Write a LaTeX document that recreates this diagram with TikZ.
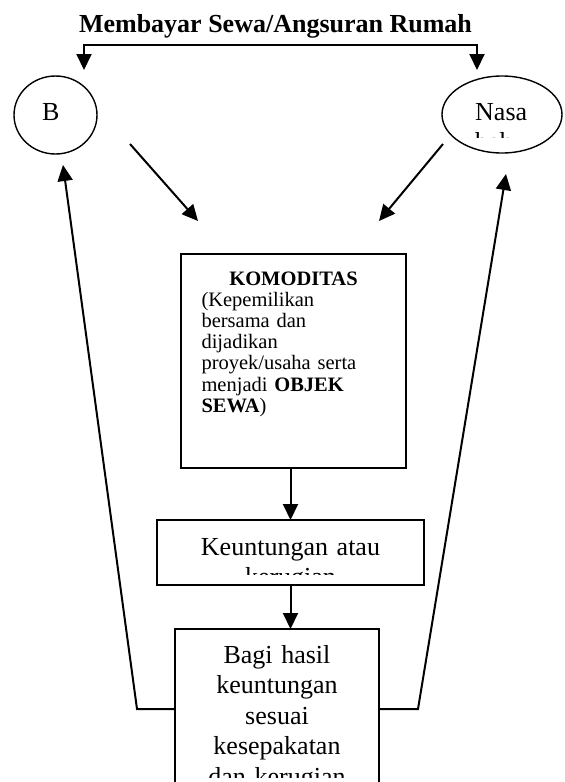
\documentclass[tikz,border=0pt]{standalone}
\usepackage{fontspec}
\setmainfont{Liberation Serif}
\usepackage{tikz}
\usetikzlibrary{shapes.geometric,arrows.meta,positioning}

\begin{document}
\begin{tikzpicture}[x=1pt, y=-1pt,
  box/.style={rectangle, draw=black, line width=2pt, outer sep=0pt},
  party/.style={ellipse, draw=black, line width=1.4pt, outer sep=0pt},
  txt/.style={inner sep=0pt, font=\fontsize{26}{30.5}\selectfont},
  arr/.style={-{Triangle[length=16pt,width=15pt]}, line width=2pt}]
  \clip (0,0) rectangle (565,782);
  % top: payment of rent
  \node[txt, font=\fontsize{26}{30}\selectfont\bfseries, anchor=base] (title) at (275.5,32) {Membayar Sewa/Angsuran Rumah};
  \coordinate (payl) at (84,45);
  \coordinate (payr) at (477,45);
  \coordinate (payltip) at (84,70);
  \coordinate (payrtip) at (477,70);
  \draw[{Triangle[length=16pt,width=15pt]}-{Triangle[length=16pt,width=15pt]}, line width=2pt]
    (payltip) -- (payl) -- (payr) -- (payrtip);
  % the two parties
  \node[party, minimum width=83pt, minimum height=78pt] (bank) at (55.5,115) {};
  \node[txt, anchor=base west] (banktxt) at (42,120) {B};
  \node[party, minimum width=120pt, minimum height=77pt] (nasabah) at (502,114.5) {};
  \begin{scope}
    \clip (440,70) rectangle (565,137);
    \node[txt, anchor=base west, text width=80pt, align=left] (nasabahtxt) at (475,120) {Nasa\\bah};
  \end{scope}
  % commodity box
  \node[box, anchor=north, text width=184pt, inner xsep=20.5pt, inner ysep=0pt,
        text height=31pt, text depth=183pt, align=left,
        font=\fontsize{20.5}{21.2}\selectfont] (komoditas) at (293.5,254)
    {\makebox[\linewidth][c]{\textbf{KOMODITAS}}\\(Kepemilikan\\bersama dan\\dijadikan\\proyek/usaha serta\\menjadi \textbf{OBJEK}\\\textbf{SEWA})};
  \node[box, minimum width=267pt, minimum height=65pt, below=52pt of komoditas, xshift=-3pt] (untung) {};
  \begin{scope}
    \clip (untung.north west) rectangle ([yshift=11pt]untung.south east);
    \node[txt, anchor=base, text width=240pt, align=center] (untungtxt) at (290.5,555) {Keuntungan atau\\kerugian};
  \end{scope}
  \node[box, minimum width=204pt, minimum height=180pt, below=44pt of untung, xshift=-13.5pt] (bagi) {};
  \begin{scope}
    \clip (bagi.north west) rectangle (bagi.east |- 0,777);
    \node[txt, anchor=base, text width=190pt, align=center] (bagitxt) at (277,663) {Bagi hasil\\keuntungan\\sesuai\\kesepakatan\\dan kerugian};
  \end{scope}
  % connectors
  \coordinate (bankout) at (130,144);
  \coordinate (nasout) at (443,144);
  \coordinate (komin1) at (198,221);
  \coordinate (komin2) at (379,221);
  \coordinate (lturn) at (137,709);
  \coordinate (rturn) at (418,709);
  \coordinate (banktip) at (63,165);
  \coordinate (nastip) at (506,174);
  \draw[arr] (bankout) -- (komin1);
  \draw[arr] (nasout) -- (komin2);
  \draw[arr] (untung.north |- komoditas.south) -- (untung.north);
  \draw[arr] (untung.south) -- (untung.south |- bagi.north);
  \draw[arr] (bagi.west |- lturn) -- (lturn) -- (banktip);
  \draw[arr] (bagi.east |- rturn) -- (rturn) -- (nastip);
\end{tikzpicture}
\end{document}
